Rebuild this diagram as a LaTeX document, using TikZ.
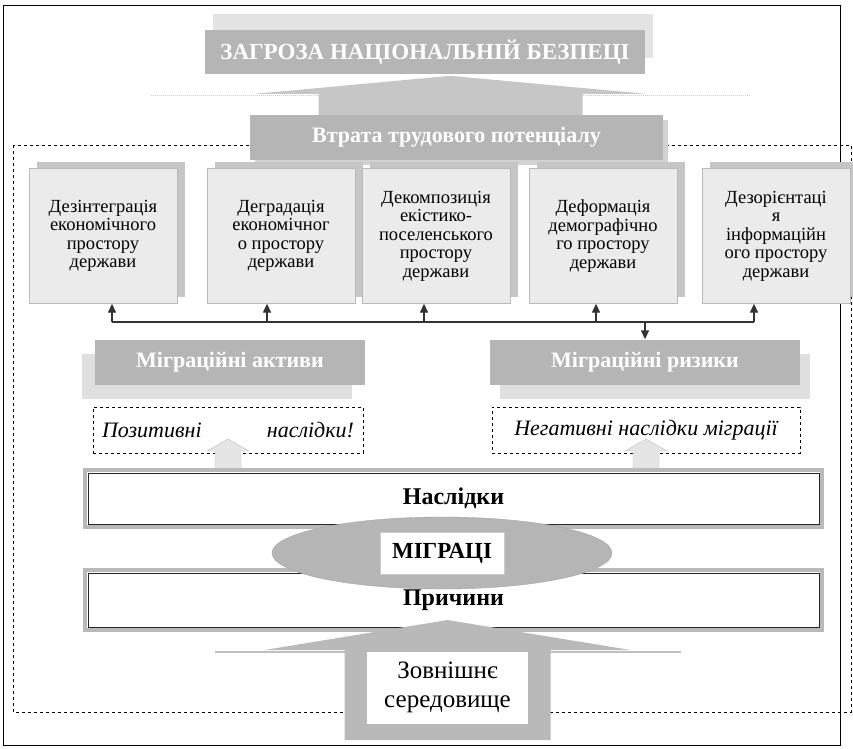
\documentclass[tikz,border=0pt]{standalone}
\usepackage{fontspec}
\setmainfont{Liberation Serif}
\usetikzlibrary{shapes.geometric,arrows.meta,calc,shadows}

\newcommand{\boxlines}[1]{\parbox[c][112pt][c]{142pt}{\centering #1}}

\begin{document}
\begin{tikzpicture}[x=1pt,y=-1pt,
  darkbox/.style={rectangle,fill=gray!58,text=white,inner sep=0pt,font=\fontsize{22}{24}\selectfont\bfseries},
  spacebox/.style={rectangle,draw=gray!55,fill=gray!16,inner sep=0pt,minimum width=148pt,minimum height=135pt,
    font=\fontsize{18.5}{18.5}\selectfont,drop shadow={shadow xshift=8pt,shadow yshift=7pt,fill=gray!45,opacity=1}},
  resultbox/.style={rectangle,draw,dashed,inner sep=0pt,minimum height=46pt,font=\fontsize{22}{24}\selectfont\itshape},
  stagebox/.style={rectangle,draw=gray!55,line width=4pt,fill=white,minimum width=737pt,inner sep=0pt,font=\fontsize{24}{26}\selectfont\bfseries},
  envbox/.style={rectangle,fill=white,draw=gray!30!black,double=white,double distance=1.5pt,minimum width=159pt,minimum height=70pt,
    inner sep=0pt,align=center,font=\fontsize{25}{29}\selectfont},
  upshape/.style={fill=gray!20,draw=gray!50},
  smalltip/.style={-{Triangle[length=9pt,width=8pt]},draw=gray!40!black,line width=1.4pt}
]
\useasboundingbox (0,0) rectangle (853,748);
\draw[line width=0.8pt] (3,5) rectangle (840,745);
\draw[dashed,line width=0.6pt] (13,145) rectangle (851,712);

\node[darkbox,minimum width=440pt,minimum height=44pt,font=\fontsize{23}{24}\selectfont\bfseries,
  drop shadow={shadow xshift=8pt,shadow yshift=16pt,fill=gray!22,opacity=1}] (threat) at (425,52) {ЗАГРОЗА НАЦІОНАЛЬНІЙ БЕЗПЕЦІ};
\node[darkbox,minimum width=413pt,minimum height=45pt,drop shadow={shadow xshift=5pt,shadow yshift=-5pt,fill=gray!35,opacity=1}] (loss) at (456.5,137.5) {Втрата трудового потенціалу};
\draw[gray!40,densely dotted,line width=1pt] ($(loss.north)+(-306,-19)$) -- ++(600,0);
\fill[gray!45] ($(loss.north)+(-138,0)$) -- ++(0,-21) -- ++(-63,0) -- ++(195,-18) -- ++(195,18) -- ++(-63,0) -- ++(0,21) -- cycle;

% five spaces of the state
\node[spacebox] (b1) at (103,236) {\boxlines{Дезінтеграція\\економічного\\простору\\держави}};
\node[spacebox] (b2) at (281,236) {\boxlines{Деградація\\економічног\\о простору\\держави}};
\node[spacebox] (b3) at (436,236) {\boxlines{Декомпозиція\\екістико-\\поселенського\\простору\\держави}};
\node[spacebox] (b4) at (603,236) {\boxlines{Деформація\\демографічно\\го простору\\держави}};
\node[spacebox] (b5) at (776,236) {\boxlines{Дезорієнтаці\\я\\інформаційн\\ого простору\\держави}};

\node[darkbox,minimum width=270pt,minimum height=45pt,drop shadow={shadow xshift=-13pt,shadow yshift=-14pt,fill=gray!25,opacity=1}] (assets) at (230,362) {Міграційні активи};
\node[darkbox,minimum width=310pt,minimum height=45pt,drop shadow={shadow xshift=10pt,shadow yshift=-14pt,fill=gray!25,opacity=1}] (risks) at (645,362) {Міграційні ризики};

\coordinate (u1) at (112,322);
\coordinate (u2) at (267,322);
\coordinate (u3) at (424,322);
\coordinate (u4) at (596,322);
\coordinate (u5) at (754,322);
\coordinate (d1) at (645,322);
\draw[gray!40!black,line width=1.6pt] (u1) -- (u5);
\foreach \i in {1,...,5}
  \draw[smalltip] (u\i) -- (u\i |- b\i.south);
\draw[smalltip] (d1) -- (risks.north);

\node[resultbox,minimum width=270pt,text width=252pt] (pos) at (228,430) {\noindent Позитивні\hfill наслідки!};
\node[resultbox,minimum width=308pt] (neg) at (646,430) {Негативні наслідки міграції};

\node[stagebox,minimum height=57pt] (cons) at (453.5,498.5) {Наслідки};
\draw[gray!30!black] ([shift={(5,5)}]cons.north west) rectangle ([shift={(-5,-5)}]cons.south east);
\node[stagebox,minimum height=60pt] (cause) at (453.5,600) {Причини};
\draw[gray!30!black] ([shift={(5,5)}]cause.north west) rectangle ([shift={(-5,-5)}]cause.south east);

\filldraw[upshape] ($(cons.north -| pos.south)+(-13,0)$) -- ++(0,-17) -- ++(-8,0) -- ++(21,-12) -- ++(21,12) -- ++(-8,0) -- ++(0,17) -- cycle;
\filldraw[upshape] ($(cons.north -| neg.south)+(-13,0)$) -- ++(0,-17) -- ++(-8,0) -- ++(21,-12) -- ++(21,12) -- ++(-8,0) -- ++(0,17) -- cycle;

\node[ellipse,fill=gray!58,draw=gray!70,minimum width=340pt,minimum height=72pt,inner sep=0pt] (migshape) at (442,553) {};
\node[fill=white,draw=gray!40,minimum width=124pt,minimum height=42pt,inner sep=0pt,font=\fontsize{23}{24}\selectfont\bfseries] (mig) at (migshape.center) {МІГРАЦІ};

% environment arrow
\coordinate (root) at (447.5,740);
\draw[gray!50,line width=1.5pt] ($(root)+(-233,-88)$) -- ++(466,0);
\fill[gray!55] ($(root)+(-103,0)$) -- ++(0,-90) -- ++(-80,0) -- ++(183,-30) -- ++(183,30) -- ++(-80,0) -- ++(0,90) -- cycle;
\node[envbox,anchor=south] (env) at ($(root)+(0,-17)$) {Зовнішнє\\середовище};
\end{tikzpicture}
\end{document}
